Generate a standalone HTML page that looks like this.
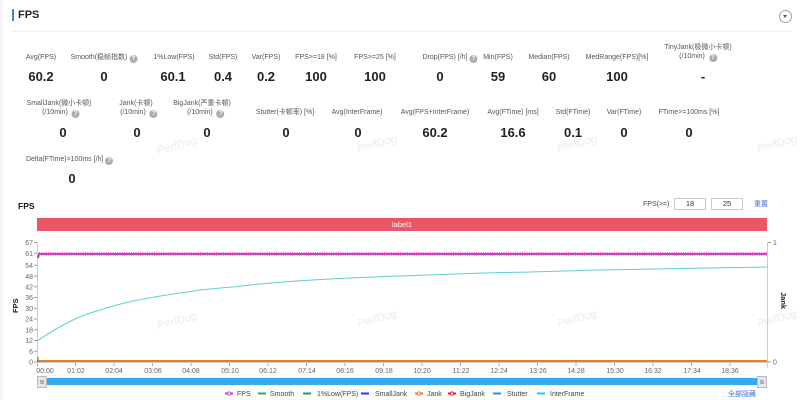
<!DOCTYPE html>
<html><head><meta charset="utf-8">
<style>
*{margin:0;padding:0;box-sizing:border-box}
body{width:800px;height:400px;background:#fff;font-family:"Liberation Sans","Noto Sans CJK SC",sans-serif;position:relative;overflow:hidden;color:#333}
.a{position:absolute;white-space:nowrap}
.c{transform:translateX(-50%);text-align:center}
.lb{font-size:7px;color:#555;line-height:9px}
.v{font-size:13px;font-weight:bold;color:#222;line-height:14px}
.q{display:inline-block;width:8px;height:8px;border-radius:50%;background:#a8adb5;color:#fff;font-size:6.5px;line-height:8px;text-align:center;vertical-align:-1px;margin-left:2px;font-weight:bold}
.wm{position:absolute;font-size:11px;color:#ececec;transform:rotate(-15deg);}
</style></head><body>
<div class="a" style="left:0;top:0;width:3px;height:400px;background:#f3f4f6"></div>
<div class="a" style="left:12px;top:9px;width:2px;height:12px;background:#4a7cf0"></div>
<div class="a" style="left:18px;top:9px;font-size:11px;font-weight:bold;color:#222">FPS</div>
<div class="a" style="left:12px;top:31px;width:780px;height:1px;background:#eef0f3"></div>
<div class="a" style="left:779px;top:10px;width:13px;height:13px;border:1px solid #9aa0a8;border-radius:50%"></div>
<div class="a" style="left:783px;top:15px;width:0;height:0;border-left:2.5px solid transparent;border-right:2.5px solid transparent;border-top:3px solid #555"></div>

<div class="wm" style="left:157px;top:140px">PerfDog</div>
<div class="wm" style="left:357px;top:138px">PerfDog</div>
<div class="wm" style="left:557px;top:138px">PerfDog</div>
<div class="wm" style="left:757px;top:138px">PerfDog</div>
<div class="wm" style="left:157px;top:315px">PerfDog</div>
<div class="wm" style="left:357px;top:313px">PerfDog</div>
<div class="wm" style="left:557px;top:313px">PerfDog</div>
<div class="wm" style="left:757px;top:313px">PerfDog</div>

<!-- row 1 -->
<div class="a c lb" style="left:41px;top:53px">Avg(FPS)</div>
<div class="a c lb" style="left:104px;top:53px">Smooth(稳帧指数)<span class="q">?</span></div>
<div class="a c lb" style="left:174px;top:53px">1%Low(FPS)</div>
<div class="a c lb" style="left:223px;top:53px">Std(FPS)</div>
<div class="a c lb" style="left:266px;top:53px">Var(FPS)</div>
<div class="a c lb" style="left:316px;top:53px">FPS&gt;=18 [%]</div>
<div class="a c lb" style="left:375px;top:53px">FPS&gt;=25 [%]</div>
<div class="a c lb" style="left:450px;top:53px">Drop(FPS) [/h]<span class="q">?</span></div>
<div class="a c lb" style="left:498px;top:53px">Min(FPS)</div>
<div class="a c lb" style="left:549px;top:53px">Median(FPS)</div>
<div class="a c lb" style="left:617px;top:53px">MedRange(FPS)[%]</div>
<div class="a c lb" style="left:698px;top:43px">TinyJank(极微小卡顿)<br>(/10min) <span class="q">?</span></div>

<div class="a c v" style="left:41px;top:70px">60.2</div>
<div class="a c v" style="left:104px;top:70px">0</div>
<div class="a c v" style="left:173px;top:70px">60.1</div>
<div class="a c v" style="left:223px;top:70px">0.4</div>
<div class="a c v" style="left:266px;top:70px">0.2</div>
<div class="a c v" style="left:316px;top:70px">100</div>
<div class="a c v" style="left:375px;top:70px">100</div>
<div class="a c v" style="left:440px;top:70px">0</div>
<div class="a c v" style="left:498px;top:70px">59</div>
<div class="a c v" style="left:549px;top:70px">60</div>
<div class="a c v" style="left:617px;top:70px">100</div>
<div class="a c v" style="left:703px;top:70px">-</div>

<!-- row 2 -->
<div class="a c lb" style="left:59px;top:99px">SmallJank(微小卡顿)<br>&nbsp;&nbsp;(/10min) <span class="q">?</span></div>
<div class="a c lb" style="left:136px;top:99px">Jank(卡顿)<br>&nbsp;&nbsp;&nbsp;(/10min) <span class="q">?</span></div>
<div class="a c lb" style="left:202px;top:99px">BigJank(严重卡顿)<br>&nbsp;&nbsp;&nbsp;&nbsp;(/10min) <span class="q">?</span></div>
<div class="a c lb" style="left:285px;top:108px">Stutter(卡顿率) [%]</div>
<div class="a c lb" style="left:357px;top:108px">Avg(InterFrame)</div>
<div class="a c lb" style="left:435px;top:108px">Avg(FPS+InterFrame)</div>
<div class="a c lb" style="left:513px;top:108px">Avg(FTime) [ms]</div>
<div class="a c lb" style="left:573px;top:108px">Std(FTime)</div>
<div class="a c lb" style="left:624px;top:108px">Var(FTime)</div>
<div class="a c lb" style="left:689px;top:108px">FTime&gt;=100ms [%]</div>

<div class="a c v" style="left:63px;top:126px">0</div>
<div class="a c v" style="left:137px;top:126px">0</div>
<div class="a c v" style="left:207px;top:126px">0</div>
<div class="a c v" style="left:286px;top:126px">0</div>
<div class="a c v" style="left:358px;top:126px">0</div>
<div class="a c v" style="left:435px;top:126px">60.2</div>
<div class="a c v" style="left:513px;top:126px">16.6</div>
<div class="a c v" style="left:573px;top:126px">0.1</div>
<div class="a c v" style="left:624px;top:126px">0</div>
<div class="a c v" style="left:689px;top:126px">0</div>

<!-- row 3 -->
<div class="a lb" style="left:26px;top:155px">Delta(FTime)&gt;100ms [/h]<span class="q">?</span></div>
<div class="a c v" style="left:72px;top:172px">0</div>

<!-- chart header -->
<div class="a" style="left:18px;top:201px;font-size:8.5px;font-weight:bold;color:#111">FPS</div>
<div class="a lb" style="left:643px;top:200px;color:#444">FPS(&gt;=)</div>
<div class="a" style="left:674px;top:198px;width:32px;height:12px;border:1px solid #c8ccd2;font-size:7.5px;text-align:center;line-height:10px;color:#333">18</div>
<div class="a" style="left:711px;top:198px;width:32px;height:12px;border:1px solid #c8ccd2;font-size:7.5px;text-align:center;line-height:10px;color:#333">25</div>
<div class="a lb" style="left:754px;top:200px;color:#3b6fe0">重置</div>

<div class="a" style="left:37px;top:218px;width:730px;height:13px;background:#ec5565;color:#fff;font-size:7.5px;text-align:center;line-height:13px">label1</div>

<svg class="a" style="left:0;top:0" width="800" height="400" xmlns="http://www.w3.org/2000/svg" font-family="Liberation Sans, sans-serif">
  <g stroke="#c9ccd2" stroke-width="1">
    <line x1="37.5" y1="242" x2="37.5" y2="362"/>
    <line x1="767.5" y1="242" x2="767.5" y2="368"/>
  </g>
  <g stroke="#999" stroke-width="1">
    <line x1="34" y1="242.5" x2="37" y2="242.5"/>
    <line x1="34" y1="253.2" x2="37" y2="253.2"/>
    <line x1="34" y1="265.3" x2="37" y2="265.3"/>
    <line x1="34" y1="276" x2="37" y2="276"/>
    <line x1="34" y1="286.8" x2="37" y2="286.8"/>
    <line x1="34" y1="297.5" x2="37" y2="297.5"/>
    <line x1="34" y1="308.3" x2="37" y2="308.3"/>
    <line x1="34" y1="319" x2="37" y2="319"/>
    <line x1="34" y1="329.8" x2="37" y2="329.8"/>
    <line x1="34" y1="340.5" x2="37" y2="340.5"/>
    <line x1="34" y1="351.3" x2="37" y2="351.3"/>
    <line x1="34" y1="362" x2="37" y2="362"/>
    <line x1="768" y1="242.5" x2="771" y2="242.5"/>
    <line x1="768" y1="362" x2="771" y2="362"/>
  </g>
  <g font-size="7" fill="#666" text-anchor="end">
    <text x="33" y="245">67</text>
    <text x="33" y="256">61</text>
    <text x="33" y="268">54</text>
    <text x="33" y="279">48</text>
    <text x="33" y="289.5">42</text>
    <text x="33" y="300">36</text>
    <text x="33" y="311">30</text>
    <text x="33" y="321.5">24</text>
    <text x="33" y="332.5">18</text>
    <text x="33" y="343">12</text>
    <text x="33" y="354">6</text>
    <text x="33" y="364.5">0</text>
  </g>
  <g font-size="7" fill="#666">
    <text x="773" y="245">1</text>
    <text x="773" y="364.5">0</text>
  </g>
  <text x="0" y="0" font-size="7.5" font-weight="bold" fill="#222" transform="translate(18,313) rotate(-90)">FPS</text>
  <text x="0" y="0" font-size="7.5" font-weight="bold" fill="#222" transform="translate(781,292) rotate(90)">Jank</text>

  <!-- x axis -->
  <line x1="37" y1="362.5" x2="767" y2="362.5" stroke="#c9ccd2"/>
  <g stroke="#aaa">
    <line x1="37.5" y1="363" x2="37.5" y2="366"/><line x1="75.5" y1="363" x2="75.5" y2="366"/><line x1="114" y1="363" x2="114" y2="366"/><line x1="152.5" y1="363" x2="152.5" y2="366"/><line x1="191" y1="363" x2="191" y2="366"/><line x1="229.5" y1="363" x2="229.5" y2="366"/><line x1="268" y1="363" x2="268" y2="366"/><line x1="306.5" y1="363" x2="306.5" y2="366"/><line x1="345" y1="363" x2="345" y2="366"/><line x1="383.5" y1="363" x2="383.5" y2="366"/><line x1="422" y1="363" x2="422" y2="366"/><line x1="460.5" y1="363" x2="460.5" y2="366"/><line x1="499" y1="363" x2="499" y2="366"/><line x1="537.5" y1="363" x2="537.5" y2="366"/><line x1="576" y1="363" x2="576" y2="366"/><line x1="614.5" y1="363" x2="614.5" y2="366"/><line x1="653" y1="363" x2="653" y2="366"/><line x1="691.5" y1="363" x2="691.5" y2="366"/><line x1="730" y1="363" x2="730" y2="366"/>
  </g>
  <g font-size="7" fill="#666" text-anchor="middle">
    <text x="45" y="373">00:00</text><text x="76" y="373">01:02</text><text x="114" y="373">02:04</text><text x="153" y="373">03:06</text><text x="191" y="373">04:08</text><text x="230" y="373">05:10</text><text x="268" y="373">06:12</text><text x="307" y="373">07:14</text><text x="345" y="373">08:16</text><text x="384" y="373">09:18</text><text x="422" y="373">10:20</text><text x="461" y="373">11:22</text><text x="499" y="373">12:24</text><text x="538" y="373">13:26</text><text x="576" y="373">14:28</text><text x="615" y="373">15:30</text><text x="653" y="373">16:32</text><text x="692" y="373">17:34</text><text x="730" y="373">18:36</text>
  </g>

  <!-- series -->
  <path d="M37,341 C45,336 55,329 67,323 C80,316 90,313 100,310 C115,305 125,303 133,301 C150,297.5 160,296 167,295 C185,292 195,291 200,290 C215,288.5 225,287.5 233,287 C250,285 260,284 270,283 C300,280.5 320,279.5 330,279 C360,277.5 380,276.5 400,276 C440,274.5 460,274 470,273.5 C500,272.5 520,272.2 530,272 C560,271 580,270.5 600,270 C640,269 660,268.8 680,268.5 C720,267.8 740,267.4 767,267" fill="none" stroke="#5fd0cf" stroke-width="1"/>
  <line x1="37" y1="361" x2="767" y2="361" stroke="#ee7733" stroke-width="2"/>
  <line x1="38" y1="357" x2="38" y2="362" stroke="#33aa44" stroke-width="1.2"/>
  <path d="M38,258 L39,254 L767,254" fill="none" stroke="#cf3cbc" stroke-width="2"/>
  <line x1="39" y1="252.6" x2="767" y2="252.6" stroke="#d968cb" stroke-width="1.2" stroke-dasharray="1 1.3"/>
  <line x1="39" y1="255.6" x2="767" y2="255.6" stroke="#dd7ad0" stroke-width="0.8" stroke-dasharray="1 1.3"/>

  <!-- slider -->
  <rect x="37" y="378" width="730" height="7" fill="#37a9f2"/>
  <rect x="37.5" y="376.5" width="9" height="11" fill="#e4e6ea" stroke="#b8bcc2"/>
  <rect x="40" y="380" width="4" height="4" fill="#aeb2b8"/>
  <rect x="757.5" y="376.5" width="9" height="11" fill="#e4e6ea" stroke="#b8bcc2"/>
  <rect x="760" y="380" width="4" height="4" fill="#aeb2b8"/>

  <!-- legend -->
  <g font-size="7" fill="#444">
    <line x1="225" y1="393.5" x2="233" y2="393.5" stroke="#cf3cbc" stroke-width="2"/><circle cx="229" cy="393.5" r="1.6" fill="#fff" stroke="#cf3cbc"/>
    <text x="237" y="396">FPS</text>
    <line x1="258" y1="393.5" x2="266" y2="393.5" stroke="#33aa44" stroke-width="2"/>
    <text x="270" y="396">Smooth</text>
    <line x1="303" y1="393.5" x2="311" y2="393.5" stroke="#119988" stroke-width="2"/>
    <text x="317" y="396">1%Low(FPS)</text>
    <line x1="361" y1="393.5" x2="369" y2="393.5" stroke="#3333ee" stroke-width="2"/>
    <text x="375" y="396">SmallJank</text>
    <line x1="415" y1="393.5" x2="423" y2="393.5" stroke="#ee7733" stroke-width="2"/><circle cx="419" cy="393.5" r="1.6" fill="#fff" stroke="#ee7733"/>
    <text x="427" y="396">Jank</text>
    <line x1="448" y1="393.5" x2="456" y2="393.5" stroke="#dd2233" stroke-width="2"/><circle cx="452" cy="393.5" r="1.6" fill="#fff" stroke="#dd2233"/>
    <text x="460" y="396">BigJank</text>
    <line x1="493" y1="393.5" x2="501" y2="393.5" stroke="#3388ee" stroke-width="2"/>
    <text x="507" y="396">Stutter</text>
    <line x1="537" y1="393.5" x2="545" y2="393.5" stroke="#22ccdd" stroke-width="2"/>
    <text x="550" y="396">InterFrame</text>
  </g>
  <text x="728" y="396" font-size="7" fill="#3b6fe0" font-family="Liberation Sans, Noto Sans CJK SC, sans-serif">全部隐藏</text>
</svg>
</body></html>
